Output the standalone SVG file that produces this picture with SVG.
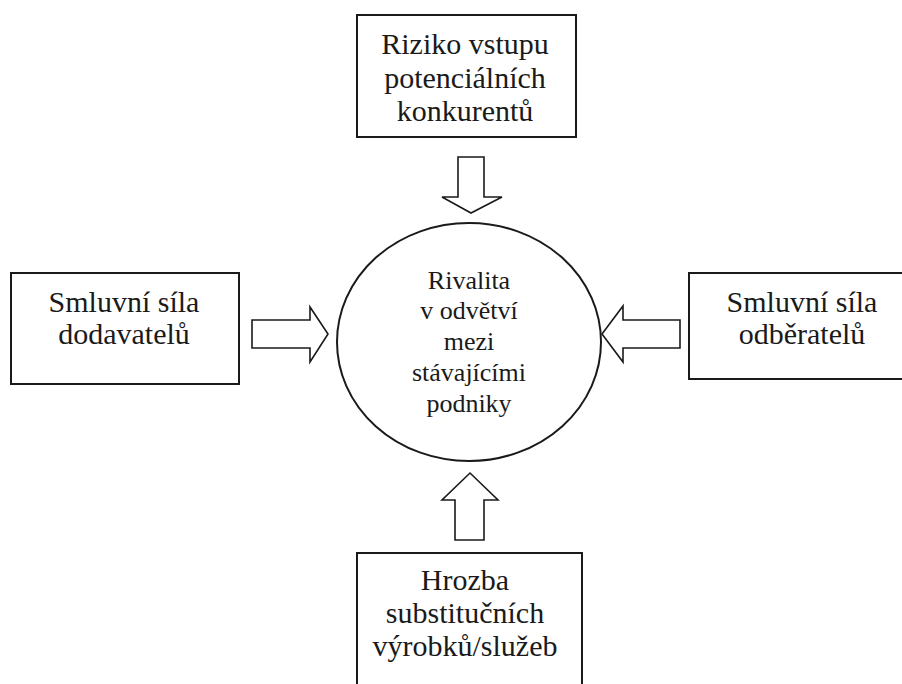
<svg xmlns="http://www.w3.org/2000/svg" width="902" height="684" viewBox="0 0 902 684">
  <style>
    .box { fill: #ffffff; stroke: #1a1a1a; stroke-width: 2; }
    .arrow { fill: #ffffff; stroke: #1a1a1a; stroke-width: 1.6; stroke-linejoin: miter; }
    .lbl { font-family: "Liberation Serif", "Times New Roman", serif; font-size: 30px; fill: #1a1a1a; text-anchor: middle; }
    .mid { font-family: "Liberation Serif", "Times New Roman", serif; font-size: 26px; fill: #1a1a1a; text-anchor: middle; }
  </style>
  <rect width="902" height="684" fill="#ffffff"/>

  <!-- Top: threat of new entrants -->
  <g id="node-entrants">
    <rect class="box" x="357" y="15" width="219" height="122"/>
    <text class="lbl" x="465" y="54">Riziko vstupu</text>
    <text class="lbl" x="465" y="88">potenciálních</text>
    <text class="lbl" x="465" y="121">konkurentů</text>
  </g>

  <!-- Left: supplier power -->
  <g id="node-suppliers">
    <rect class="box" x="11" y="273" width="228" height="111"/>
    <text class="lbl" x="124" y="312">Smluvní síla</text>
    <text class="lbl" x="124" y="344">dodavatelů</text>
  </g>

  <!-- Right: buyer power -->
  <g id="node-buyers">
    <rect class="box" x="689" y="273" width="220" height="106"/>
    <text class="lbl" x="802" y="312">Smluvní síla</text>
    <text class="lbl" x="802" y="344">odběratelů</text>
  </g>

  <!-- Bottom: substitutes -->
  <g id="node-substitutes">
    <rect class="box" x="357" y="553" width="225" height="140"/>
    <text class="lbl" x="465" y="590">Hrozba</text>
    <text class="lbl" x="465" y="623">substitučních</text>
    <text class="lbl" x="465" y="656">výrobků/služeb</text>
  </g>

  <!-- Centre: industry rivalry -->
  <g id="node-rivalry">
    <ellipse class="box" cx="469" cy="342" rx="132" ry="119"/>
    <text class="mid" x="469" y="289">Rivalita</text>
    <text class="mid" x="469" y="319">v odvětví</text>
    <text class="mid" x="469" y="350">mezi</text>
    <text class="mid" x="469" y="381">stávajícími</text>
    <text class="mid" x="469" y="412">podniky</text>
  </g>

  <!-- Block arrows pointing at the centre -->
  <g id="connectors">
    <polygon class="arrow" points="458,157 484,157 484,197 502,197 471,213 442,197 458,197"/>
    <polygon class="arrow" points="252,320 310,320 310,307 328,334 310,362 310,348 252,348"/>
    <polygon class="arrow" points="680,320 623,320 623,306 602,334 623,362 623,348 680,348"/>
    <polygon class="arrow" points="455,540 484,540 484,500 498,500 470,473 442,500 455,500"/>
  </g>
</svg>
